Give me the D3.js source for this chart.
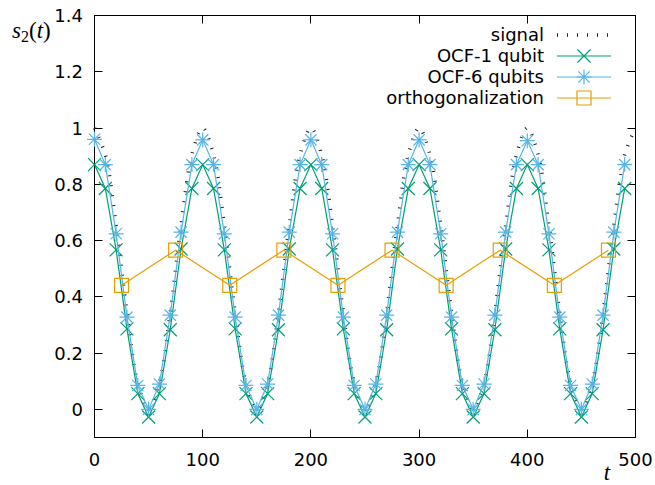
<!DOCTYPE html>
<html>

<head>
  <meta charset="utf-8">
  <title>s2(t)</title>
  <script src="https://cdn.jsdelivr.net/npm/d3@7/dist/d3.min.js"></script>
  <style>
    body { margin: 0; background: #fff; }
    text { font-family: "DejaVu Sans", sans-serif; font-size: 18px; fill: #000; }
    .math { font-family: "Liberation Serif", "DejaVu Serif", serif; font-size: 23px; }
  </style>
</head>

<body>
  <svg width="655" height="485" id="mainsvg"></svg>
  <script>
    // data
    const tSignal = [0, 10, 20, 30, 40, 50, 60, 70, 80, 90, 100, 110, 120, 130, 140, 150, 160, 170, 180, 190,
      200, 210, 220, 230, 240, 250, 260, 270, 280, 290, 300, 310, 320, 330, 340, 350, 360, 370, 380, 390,
      400, 410, 420, 430, 440, 450, 460, 470, 480, 490, 500];
    const signal = [1, 0.905, 0.655, 0.345, 0.095, 0, 0.095, 0.345, 0.655, 0.905,
      1, 0.905, 0.655, 0.345, 0.095, 0, 0.095, 0.345, 0.655, 0.905,
      1, 0.905, 0.655, 0.345, 0.095, 0, 0.095, 0.345, 0.655, 0.905,
      1, 0.905, 0.655, 0.345, 0.095, 0, 0.095, 0.345, 0.655, 0.905,
      1, 0.905, 0.655, 0.345, 0.095, 0, 0.095, 0.345, 0.655, 0.905, 1];
    const tOcf = tSignal.slice(0, 50);
    const ocf1 = [0.87, 0.785, 0.567, 0.286, 0.056, -0.027, 0.056, 0.283, 0.57, 0.785,
      0.87, 0.785, 0.567, 0.286, 0.056, -0.027, 0.056, 0.283, 0.57, 0.785,
      0.87, 0.785, 0.567, 0.286, 0.056, -0.027, 0.056, 0.283, 0.57, 0.785,
      0.87, 0.785, 0.567, 0.286, 0.056, -0.027, 0.056, 0.283, 0.57, 0.785,
      0.87, 0.785, 0.567, 0.286, 0.056, -0.027, 0.056, 0.283, 0.57, 0.785];
    const ocf6 = [0.96, 0.87, 0.624, 0.328, 0.085, 0.0, 0.09, 0.335, 0.63, 0.87,
      0.958, 0.87, 0.624, 0.328, 0.085, 0.0, 0.09, 0.335, 0.63, 0.87,
      0.958, 0.87, 0.624, 0.328, 0.085, 0.0, 0.09, 0.335, 0.63, 0.87,
      0.958, 0.87, 0.624, 0.328, 0.085, 0.0, 0.09, 0.335, 0.63, 0.87,
      0.955, 0.87, 0.624, 0.328, 0.085, 0.0, 0.09, 0.335, 0.63, 0.87];
    const tOrtho = [25, 75, 125, 175, 225, 275, 325, 375, 425, 475];
    const ortho = [0.441, 0.566, 0.441, 0.566, 0.441, 0.566, 0.441, 0.566, 0.441, 0.566];
    const xTicks = [0, 100, 200, 300, 400, 500];
    const yTicks = [0, 0.2, 0.4, 0.6, 0.8, 1, 1.2, 1.4];
    const seriesNames = ['signal', 'OCF-1 qubit', 'OCF-6 qubits', 'orthogonalization'];

    const svg = d3.select('#mainsvg');
    const pLeft = 94.5, pRight = 635.5, pTop = 15.5, pBottom = 437.5;

    const x = d3.scaleLinear().domain([0, 500]).range([pLeft, pRight]);
    const y = d3.scaleLinear().domain([-0.1, 1.4]).range([pBottom, pTop]);

    const green = '#009e73', blue = '#56b4e9', orange = '#e69f00';

    // frame + ticks (mirrored, inward like gnuplot)
    const tl = 8;
    const fr = svg.append('g').attr('stroke', '#000').attr('stroke-width', 1).attr('fill', 'none');
    xTicks.forEach(v => {
      const px = Math.round(x(v) - 0.5) + 0.5;
      fr.append('line').attr('x1', px).attr('x2', px).attr('y1', pBottom).attr('y2', pBottom - tl);
      fr.append('line').attr('x1', px).attr('x2', px).attr('y1', pTop).attr('y2', pTop + tl);
    });
    yTicks.forEach(v => {
      const py = Math.round(y(v) - 0.5) + 0.5;
      fr.append('line').attr('x1', pLeft).attr('x2', pLeft + tl).attr('y1', py).attr('y2', py);
      fr.append('line').attr('x1', pRight).attr('x2', pRight - tl).attr('y1', py).attr('y2', py);
    });
    fr.append('rect').attr('x', pLeft).attr('y', pTop)
      .attr('width', pRight - pLeft).attr('height', pBottom - pTop);

    svg.selectAll('.xlab').data(xTicks).join('text')
      .attr('class', 'xlab')
      .attr('x', d => x(d)).attr('y', 466)
      .attr('text-anchor', 'middle').text(d => d);
    svg.selectAll('.ylab').data(yTicks).join('text')
      .attr('class', 'ylab')
      .attr('x', 83).attr('y', d => y(d)).attr('dy', '0.36em')
      .attr('text-anchor', 'end').text(d => d);

    // axis labels
    const yl = svg.append('text').attr('class', 'math').attr('x', 12).attr('y', 38);
    yl.append('tspan').attr('font-style', 'italic').text('s');
    yl.append('tspan').attr('font-size', '16px').attr('dy', 4).text('2');
    yl.append('tspan').attr('dy', -4).text('(');
    yl.append('tspan').attr('font-style', 'italic').text('t');
    yl.append('tspan').text(')');
    svg.append('text').attr('class', 'math').attr('font-style', 'italic')
      .attr('x', 607).attr('y', 480).attr('text-anchor', 'middle').text('t');

    // markers
    const crossPath = s => `M${-s},${-s}L${s},${s}M${-s},${s}L${s},${-s}`;
    const starPath = s => crossPath(s * 0.75) + `M${-s},0L${s},0M0,${-s}L0,${s}`;
    const squarePath = s => `M${-s},${-s}H${s}V${s}H${-s}Z`;

    const line = d3.line().x(d => x(d[0])).y(d => y(d[1]));
    const smooth = d3.line().x(d => x(d[0])).y(d => y(d[1])).curve(d3.curveCatmullRom);

    // signal: dense dash pattern with a wide stroke => small perpendicular ticks
    svg.append('path')
      .attr('fill', 'none').attr('stroke', '#222')
      .attr('stroke-width', 3.5).attr('stroke-dasharray', '1,9')
      .attr('d', smooth(tSignal.map((t, i) => [t, signal[i]])));

    function drawSeries(ts, vs, color, mark) {
      const pts = ts.map((t, i) => [t, vs[i]]);
      svg.append('path').attr('fill', 'none').attr('stroke', color).attr('stroke-width', 1.2)
        .attr('d', line(pts));
      svg.append('g').selectAll('path').data(pts).join('path')
        .attr('transform', d => `translate(${x(d[0])},${y(d[1])})`)
        .attr('d', mark).attr('fill', 'none').attr('stroke', color).attr('stroke-width', 1.2);
    }
    drawSeries(tOcf, ocf1, green, crossPath(6.5));
    drawSeries(tOcf, ocf6, blue, starPath(7.5));
    drawSeries(tOrtho, ortho, orange, squarePath(7));

    // legend
    const keyY = [35, 56, 77, 98];
    const kx1 = 557, kx2 = 611, kxm = 584;
    svg.selectAll('.key').data(seriesNames).join('text')
      .attr('class', 'key')
      .attr('x', 544).attr('y', (d, i) => keyY[i]).attr('dy', '0.36em')
      .attr('text-anchor', 'end').text(d => d);
    svg.append('line').attr('x1', kx1).attr('x2', kx2).attr('y1', keyY[0]).attr('y2', keyY[0])
      .attr('stroke', '#222').attr('stroke-width', 3.5).attr('stroke-dasharray', '1,9');
    [[green, crossPath(6.5)], [blue, starPath(7.5)], [orange, squarePath(7)]].forEach(([c, m], i) => {
      const ky = keyY[i + 1];
      svg.append('line').attr('x1', kx1).attr('x2', kx2).attr('y1', ky).attr('y2', ky)
        .attr('stroke', c).attr('stroke-width', 1.2);
      svg.append('path').attr('transform', `translate(${kxm},${ky})`).attr('d', m)
        .attr('fill', 'none').attr('stroke', c).attr('stroke-width', 1.2);
    });
  </script>
</body>

</html>
